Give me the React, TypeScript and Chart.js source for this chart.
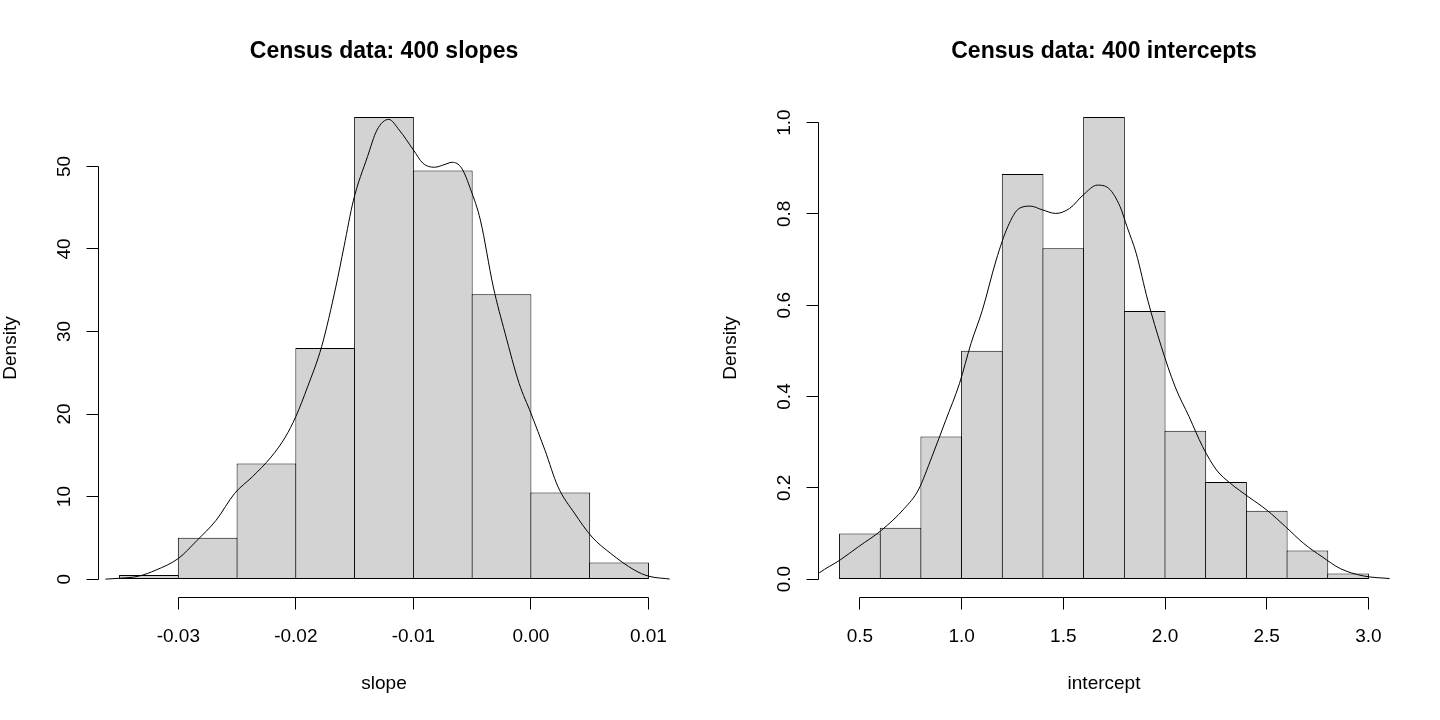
import React, { useEffect, useRef } from "react";
import { Chart, registerables } from "chart.js";

Chart.register(...registerables);

// ---------- Data: slopes ----------
const slopeBreaks = [-0.035, -0.03, -0.025, -0.02, -0.015, -0.01, -0.005, 0.0, 0.005, 0.01];
const slopeDensity = [0.5, 5, 14, 28, 56, 49.5, 34.5, 10.5, 2];
const slopeKdeX = [
  -0.0362, -0.035, -0.0334, -0.0319, -0.03, -0.0284, -0.0268, -0.0252, -0.0237, -0.0221,
  -0.0209, -0.02, -0.019, -0.0178, -0.0166, -0.0159, -0.0151, -0.0139, -0.0131, -0.0121,
  -0.0112, -0.01, -0.0092, -0.0082, -0.0074, -0.0067, -0.0059, -0.0051, -0.0043, -0.0032,
  -0.0022, -0.001, 0.0, 0.0012, 0.0023, 0.0037, 0.0052, 0.0068, 0.0088, 0.01, 0.0119,
];
const slopeKdeY = [
  0.0, 0.1, 0.35, 1.1, 2.5, 4.7, 7.1, 10.4, 12.4, 14.8,
  17.2, 19.7, 23.3, 28.2, 35.4, 40.3, 45.9, 51.2, 54.4, 55.7,
  54.4, 52.0, 50.4, 49.9, 50.2, 50.5, 49.8, 47.1, 43.5, 35.4,
  29.8, 23.7, 20.1, 15.6, 11.2, 8.0, 5.1, 3.1, 1.1, 0.36, 0.0,
];
const slopeXTicks = [-0.03, -0.02, -0.01, 0.0, 0.01];
const slopeXTickLabels = ["-0.03", "-0.02", "-0.01", "0.00", "0.01"];
const slopeYTicks = [0, 10, 20, 30, 40, 50];
const slopeYTickLabels = ["0", "10", "20", "30", "40", "50"];

// ---------- Data: intercepts ----------
const interceptBreaks = [0.4, 0.6, 0.8, 1.0, 1.2, 1.4, 1.6, 1.8, 2.0, 2.2, 2.4, 2.6, 2.8, 3.0];
const interceptDensity = [0.1, 0.1125, 0.3125, 0.5, 0.8875, 0.725, 1.0125, 0.5875, 0.325, 0.2125, 0.15, 0.0625, 0.0125];
const interceptKdeX = [
  0.29, 0.301, 0.403, 0.493, 0.606, 0.719, 0.787, 0.854, 0.922, 0.99, 1.046,
  1.102, 1.17, 1.227, 1.283, 1.339, 1.396, 1.463, 1.531, 1.599, 1.667,
  1.723, 1.779, 1.813, 1.858, 1.915, 1.982, 2.05, 2.118, 2.185, 2.253,
  2.321, 2.411, 2.501, 2.592, 2.682, 2.772, 2.862, 2.975, 3.11,
];
const interceptKdeY = [
  0.01, 0.014, 0.042, 0.071, 0.107, 0.155, 0.195, 0.268, 0.348, 0.429, 0.516,
  0.589, 0.699, 0.772, 0.812, 0.817, 0.809, 0.801, 0.812, 0.842, 0.863,
  0.856, 0.816, 0.772, 0.714, 0.611, 0.509, 0.421, 0.356, 0.29, 0.239,
  0.21, 0.18, 0.151, 0.115, 0.078, 0.049, 0.023, 0.007, 0.001,
];
const interceptXTicks = [0.5, 1.0, 1.5, 2.0, 2.5, 3.0];
const interceptXTickLabels = ["0.5", "1.0", "1.5", "2.0", "2.5", "3.0"];
const interceptYTicks = [0.0, 0.2, 0.4, 0.6, 0.8, 1.0];
const interceptYTickLabels = ["0.0", "0.2", "0.4", "0.6", "0.8", "1.0"];

const FONT = '"Liberation Sans", Arial, Helvetica, sans-serif';

type PanelSpec = {
  title: string;
  xTitle: string;
  yTitle: string;
  breaks: number[];
  density: number[];
  kdeX: number[];
  kdeY: number[];
  xTicks: number[];
  xTickLabels: string[];
  yTicks: number[];
  yTickLabels: string[];
  barOverlap: number;
};

const snap = (v: number) => Math.round(v - 0.5) + 0.5;

function makeAxesPlugin(spec: PanelSpec) {
  return {
    id: "rAxes",
    afterDraw(chart: any) {
      const { ctx, chartArea: ca } = chart;
      const xs = chart.scales.x;
      const ys = chart.scales.y;
      ctx.save();
      ctx.strokeStyle = "#000";
      ctx.fillStyle = "#000";
      ctx.lineWidth = 1;

      // x axis
      const xb = snap(ca.bottom);
      ctx.beginPath();
      const xa = snap(xs.getPixelForValue(spec.xTicks[0]));
      const xe = snap(xs.getPixelForValue(spec.xTicks[spec.xTicks.length - 1]));
      ctx.moveTo(xa, xb);
      ctx.lineTo(xe, xb);
      spec.xTicks.forEach((v) => {
        const px = snap(xs.getPixelForValue(v));
        ctx.moveTo(px, xb);
        ctx.lineTo(px, xb + 12);
      });
      // y axis
      const yl = snap(ca.left);
      const ya = snap(ys.getPixelForValue(spec.yTicks[0]));
      const ye = snap(ys.getPixelForValue(spec.yTicks[spec.yTicks.length - 1]));
      ctx.moveTo(yl, ya);
      ctx.lineTo(yl, ye);
      spec.yTicks.forEach((v) => {
        const py = snap(ys.getPixelForValue(v));
        ctx.moveTo(yl, py);
        ctx.lineTo(yl - 12, py);
      });
      ctx.stroke();

      // x tick labels
      ctx.font = `19px ${FONT}`;
      ctx.textAlign = "center";
      ctx.textBaseline = "alphabetic";
      spec.xTicks.forEach((v, i) => {
        ctx.fillText(spec.xTickLabels[i], xs.getPixelForValue(v), ca.bottom + 44.5);
      });
      // y tick labels (rotated)
      spec.yTicks.forEach((v, i) => {
        ctx.save();
        ctx.translate(ca.left - 28, ys.getPixelForValue(v));
        ctx.rotate(-Math.PI / 2);
        ctx.fillText(spec.yTickLabels[i], 0, 0);
        ctx.restore();
      });
      // axis titles
      const cx = (ca.left + ca.right) / 2;
      const cy = (ca.top + ca.bottom) / 2;
      ctx.fillText(spec.xTitle, cx, ca.bottom + 91.5);
      ctx.save();
      ctx.translate(ca.left - 82, cy);
      ctx.rotate(-Math.PI / 2);
      ctx.fillText(spec.yTitle, 0, 0);
      ctx.restore();
      // main title
      ctx.font = `bold 23px ${FONT}`;
      ctx.fillText(spec.title, cx, ca.top - 40.4);
      ctx.restore();
    },
  };
}

function Panel({ spec }: { spec: PanelSpec }) {
  const ref = useRef<HTMLCanvasElement | null>(null);
  useEffect(() => {
    if (!ref.current) return;
    const b = spec.breaks;
    const mids = b.slice(0, -1).map((v, i) => (v + b[i + 1]) / 2);
    const xr = b[b.length - 1] - b[0];
    const xMin = b[0] - 0.04 * xr;
    const xMax = b[b.length - 1] + 0.04 * xr;
    const yTop = Math.max(...spec.density);
    const yMin = -0.04 * yTop;
    const yMax = yTop * 1.04;

    const chart = new Chart(ref.current, {
      type: "bar",
      data: {
        datasets: [
          {
            type: "line",
            data: spec.kdeX.map((x, i) => ({ x, y: spec.kdeY[i] })),
            borderColor: "#000",
            borderWidth: 1,
            pointRadius: 0,
            fill: false,
            cubicInterpolationMode: "monotone",
            clip: 0,
            order: 0,
          } as any,
          {
            type: "bar",
            data: mids.map((x, i) => ({ x, y: spec.density[i] })),
            backgroundColor: "#D3D3D3",
            borderColor: "#000",
            borderWidth: 1,
            borderSkipped: false,
            barPercentage: spec.barOverlap,
            categoryPercentage: 1,
            inflateAmount: 0,
            grouped: false,
            order: 1,
          } as any,
        ],
      },
      options: {
        animation: false,
        responsive: false,
        events: [],
        layout: { padding: { left: 98.4, right: 50.4, top: 98.4, bottom: 122.4 } },
        plugins: {
          legend: { display: false },
          tooltip: { enabled: false },
          title: { display: false },
        },
        scales: {
          x: {
            type: "linear",
            min: xMin,
            max: xMax,
            display: false,
            offset: false,
            afterBuildTicks: (s: any) => {
              s.ticks = spec.xTicks.map((v) => ({ value: v }));
            },
          },
          y: {
            type: "linear",
            min: yMin,
            max: yMax,
            display: false,
          },
        },
      } as any,
      plugins: [makeAxesPlugin(spec)],
    });
    return () => chart.destroy();
  }, [spec]);
  return <canvas ref={ref} width={720} height={720} style={{ display: "block", width: 720, height: 720 }} />;
}

const slopeSpec: PanelSpec = {
  title: "Census data: 400 slopes",
  xTitle: "slope",
  yTitle: "Density",
  breaks: slopeBreaks,
  density: slopeDensity,
  kdeX: slopeKdeX,
  kdeY: slopeKdeY,
  xTicks: slopeXTicks,
  xTickLabels: slopeXTickLabels,
  yTicks: slopeYTicks,
  yTickLabels: slopeYTickLabels,
  barOverlap: 1.017,
};

const interceptSpec: PanelSpec = {
  title: "Census data: 400 intercepts",
  xTitle: "intercept",
  yTitle: "Density",
  breaks: interceptBreaks,
  density: interceptDensity,
  kdeX: interceptKdeX,
  kdeY: interceptKdeY,
  xTicks: interceptXTicks,
  xTickLabels: interceptXTickLabels,
  yTicks: interceptYTicks,
  yTickLabels: interceptYTickLabels,
  barOverlap: 1.0246,
};

export default function App() {
  return (
    <div
      style={{
        position: "fixed",
        left: 0,
        top: 0,
        width: 1440,
        height: 720,
        background: "#fff",
        display: "flex",
        flexDirection: "row",
      }}
    >
      <Panel spec={slopeSpec} />
      <Panel spec={interceptSpec} />
    </div>
  );
}
